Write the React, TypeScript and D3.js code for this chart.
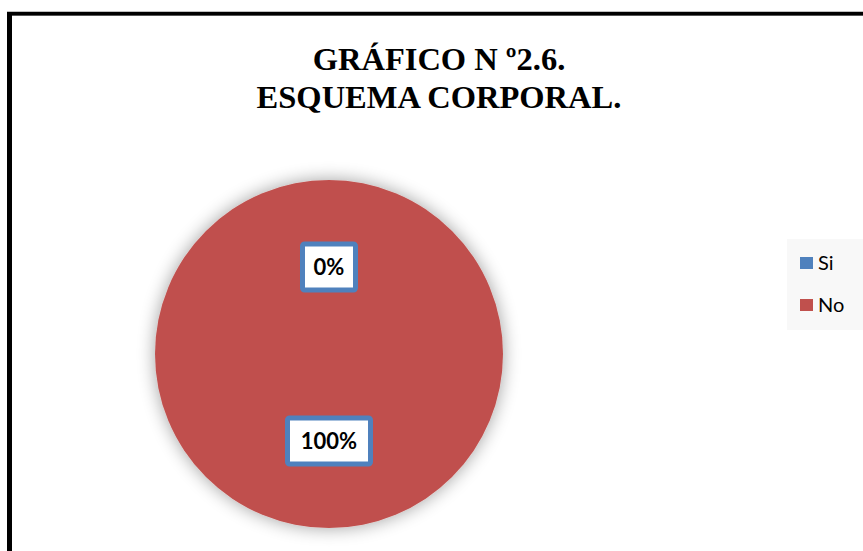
import React from "react";
import * as d3 from "d3";

const categories = ["Si", "No"];
const values = [0, 100];
const labels = ["0%", "100%"];
const colors = ["#4f81bd", "#c0504d"];
const titleLines = ["GRÁFICO N º2.6.", "ESQUEMA CORPORAL."];

const W = 863;
const H = 551;

export default function App() {
  const cx = 329;
  const cy = 354;
  const r = 174;
  const pie = d3.pie<number>().sort(null).value((d) => d);
  const arcs = pie(values);
  const arcGen = d3.arc<d3.PieArcDatum<number>>().innerRadius(0).outerRadius(r);
  const labelArc = d3.arc<d3.PieArcDatum<number>>().innerRadius(0).outerRadius(r);
  const boxW = [53, 83];
  const boxH = 46;

  return (
    <div style={{ position: "absolute", left: 0, top: 0 }}>
      <svg width={W} height={H} style={{ display: "block" }}>
        <defs>
          <filter id="shadow" x="-30%" y="-30%" width="160%" height="160%">
            <feGaussianBlur in="SourceAlpha" stdDeviation="9" />
            <feComponentTransfer>
              <feFuncA type="linear" slope="0.38" />
            </feComponentTransfer>
            <feMerge>
              <feMergeNode />
              <feMergeNode in="SourceGraphic" />
            </feMerge>
          </filter>
        </defs>
        <rect x={0} y={0} width={W} height={H} fill="#ffffff" />
        <line x1={9.5} y1={12} x2={9.5} y2={H} stroke="#000" strokeWidth={5} />
        <line x1={7} y1={13.5} x2={W} y2={13.5} stroke="#000" strokeWidth={3.5} />
        <line x1={12} y1={15.5} x2={W} y2={15.5} stroke="#555" strokeWidth={1} />
        <g fontFamily="'Liberation Serif', 'Times New Roman', serif" fontWeight="bold" fontSize={32.5} textAnchor="middle" fill="#000">
          <text x={439} y={70}>{titleLines[0]}</text>
          <text x={439} y={108}>{titleLines[1]}</text>
        </g>
        <g transform={`translate(${cx},${cy})`}>
          <g filter="url(#shadow)">
            {arcs.map((a, i) =>
              a.value > 0 ? (
                <path key={i} d={arcGen(a) || ""} fill={colors[i]} />
              ) : null
            )}
          </g>
          {arcs.map((a, i) => {
            const [lx, ly] = labelArc.centroid(a);
            const bw = boxW[i];
            return (
              <g key={"l" + i} transform={`translate(${lx},${ly})`}>
                <rect x={-bw / 2} y={-boxH / 2} width={bw} height={boxH} fill="#ffffff" stroke="#4f81bd" strokeWidth={5} rx={2} />
                <text x={0} y={0} dy="0.36em" textAnchor="middle" fontFamily="Lato, 'Open Sans', sans-serif" fontWeight="bold" fontSize={22} fill="#000">
                  {labels[i]}
                </text>
              </g>
            );
          })}
        </g>
        <rect x={787} y={239} width={W - 787} height={91} fill="#f8f8f8" />
        {categories.map((c, i) => (
          <g key={c} transform={`translate(800,${257 + i * 42})`}>
            <rect x={0} y={0} width={13} height={12} fill={colors[i]} />
            <text x={18} y={6} dy="0.36em" fontFamily="Lato, 'Open Sans', sans-serif" fontSize={20} fill="#000">
              {c}
            </text>
          </g>
        ))}
      </svg>
    </div>
  );
}
